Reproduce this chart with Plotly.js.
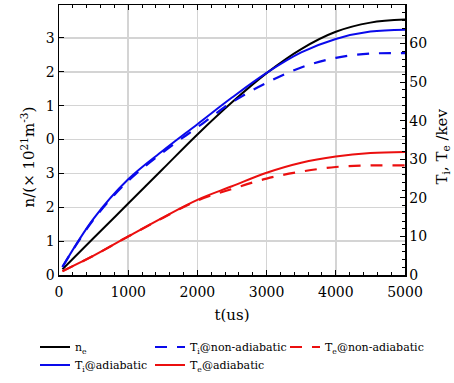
<!DOCTYPE html>
<html><head><meta charset="utf-8">
<script src="https://cdn.plot.ly/plotly-3.0.1.min.js"></script>
<style>html,body{margin:0;padding:0;background:#fff}#c{width:454px;height:383px}</style>
</head><body><div id="c"></div>
<script>
const t      = [50, 500, 1000, 1500, 2000, 2500, 3000, 3500, 4000, 4500, 5000];
const ne     = [0.17, 1.09, 2.11, 3.13, 4.15, 5.1, 5.96, 6.67, 7.18, 7.45, 7.54];
const TiAd   = [2.1, 14.6, 24.8, 32.2, 39.1, 46.0, 52.4, 57.7, 61.2, 63.1, 63.6];
const TiNon  = [2.1, 14.4, 24.4, 31.8, 38.3, 44.8, 49.8, 53.8, 56.3, 57.4, 57.5];
const TeAd   = [1.0, 5.0, 10.0, 14.9, 19.5, 23.0, 26.5, 29.1, 30.7, 31.6, 31.9];
const TeNon  = [1.0, 5.0, 10.0, 14.8, 19.3, 22.3, 25.0, 26.8, 28.0, 28.4, 28.4];
const leftTickVals  = [0, 1, 2, 3, 4, 5, 6, 7];
const leftTickText  = ['0', '1', '2', '3', '0', '1', '2', '3'];
const rightTickVals = [0, 10, 20, 30, 40, 50, 60, 70];
const xTickVals     = [0, 1000, 2000, 3000, 4000, 5000];
const names = ['n<sub>e</sub>', 'T<sub>i</sub>@non-adiabatic', 'T<sub>e</sub>@non-adiabatic',
               'T<sub>i</sub>@adiabatic', 'T<sub>e</sub>@adiabatic'];
const yTitleLeft  = 'n/(\u00d7 10<sup>21</sup>m<sup>-3</sup>)';
const yTitleRight = 'T<sub>i</sub>, T<sub>e</sub> /kev';

const BLUE = 'rgb(10,10,235)', RED = 'rgb(235,15,15)';
const DASH = '12px,10px';
const traces = [
  {x: t, y: ne, yaxis: 'y', name: names[0], legend: 'legend', line: {color: '#000', width: 2, shape: 'spline'}},
  {x: t, y: TiNon, yaxis: 'y2', name: names[1], legend: 'legend2', line: {color: BLUE, width: 2.2, dash: DASH, shape: 'spline'}},
  {x: t, y: TeNon, yaxis: 'y2', name: names[2], legend: 'legend3', line: {color: RED, width: 2.2, dash: DASH, shape: 'spline'}},
  {x: t, y: TiAd, yaxis: 'y2', name: names[3], legend: 'legend4', line: {color: BLUE, width: 2, shape: 'spline'}},
  {x: t, y: TeAd, yaxis: 'y2', name: names[4], legend: 'legend5', line: {color: RED, width: 2, shape: 'spline'}}
].map(o => Object.assign({type: 'scatter', mode: 'lines', hoverinfo: 'skip'}, o));

const W = 454, H = 383, L = 59, R = 49, T = 5, B = 107;
const pw = W - L - R, ph = H - T - B;
function px2x(p) { return (p - L) / pw; }
function py2y(p) { return (H - B - p) / ph; }
const FONT = 'DejaVu Serif';
function leg(xp, yp) {
  return {x: px2x(xp), y: py2y(yp), xanchor: 'left', yanchor: 'middle', orientation: 'v',
          bgcolor: 'rgba(0,0,0,0)', borderwidth: 0, font: {family: FONT, size: 11, color: '#000'}};
}
const axisCommon = {ticks: 'inside', tickcolor: '#000', tickwidth: 1, ticklen: 5,
  showline: true, linecolor: '#000', linewidth: 1.5, zeroline: false,
  tickfont: {family: FONT, size: 14, color: '#000'}};

const layout = {
  width: W, height: H,
  margin: {l: L, r: R, t: T, b: B, pad: 0},
  paper_bgcolor: '#fff', plot_bgcolor: '#fff',
  font: {family: FONT, size: 14, color: '#000'},
  showlegend: true,
  xaxis: Object.assign({}, axisCommon, {
    range: [0, 5000], tickvals: xTickVals, mirror: 'ticks', ticklabelstandoff: 4,
    showgrid: true, gridcolor: 'rgb(212,212,212)', gridwidth: 1.5,
    minor: {dtick: 200, ticks: 'inside', ticklen: 3, tickcolor: '#000', showgrid: false},
    title: {text: 't(us)', font: {family: FONT, size: 15}, standoff: 10}
  }),
  yaxis: Object.assign({}, axisCommon, {
    range: [0, ph / 34], tickvals: leftTickVals, ticktext: leftTickText,
    showgrid: true, gridcolor: 'rgb(212,212,212)', gridwidth: 1.5
  }),
  yaxis2: Object.assign({}, axisCommon, {
    overlaying: 'y', side: 'right', range: [0, 70], tickvals: rightTickVals, showgrid: false,
    minor: {dtick: 2, ticks: 'inside', ticklen: 3, tickcolor: '#000', showgrid: false}
  }),
  annotations: [
    {text: yTitleLeft, xref: 'paper', yref: 'paper', x: px2x(28), y: py2y(158), textangle: -90,
     xanchor: 'center', yanchor: 'middle', showarrow: false, font: {family: FONT, size: 15, color: '#000'}},
    {text: yTitleRight, xref: 'paper', yref: 'paper', x: px2x(442), y: py2y(147), textangle: -90,
     xanchor: 'center', yanchor: 'middle', showarrow: false, font: {family: FONT, size: 15, color: '#000'}}
  ],
  legend: leg(35, 347),
  legend2: leg(150, 347),
  legend3: leg(285, 347),
  legend4: leg(35, 365),
  legend5: leg(150, 365)
};
Plotly.newPlot('c', traces, layout, {staticPlot: true, displayModeBar: false});
</script></body></html>
